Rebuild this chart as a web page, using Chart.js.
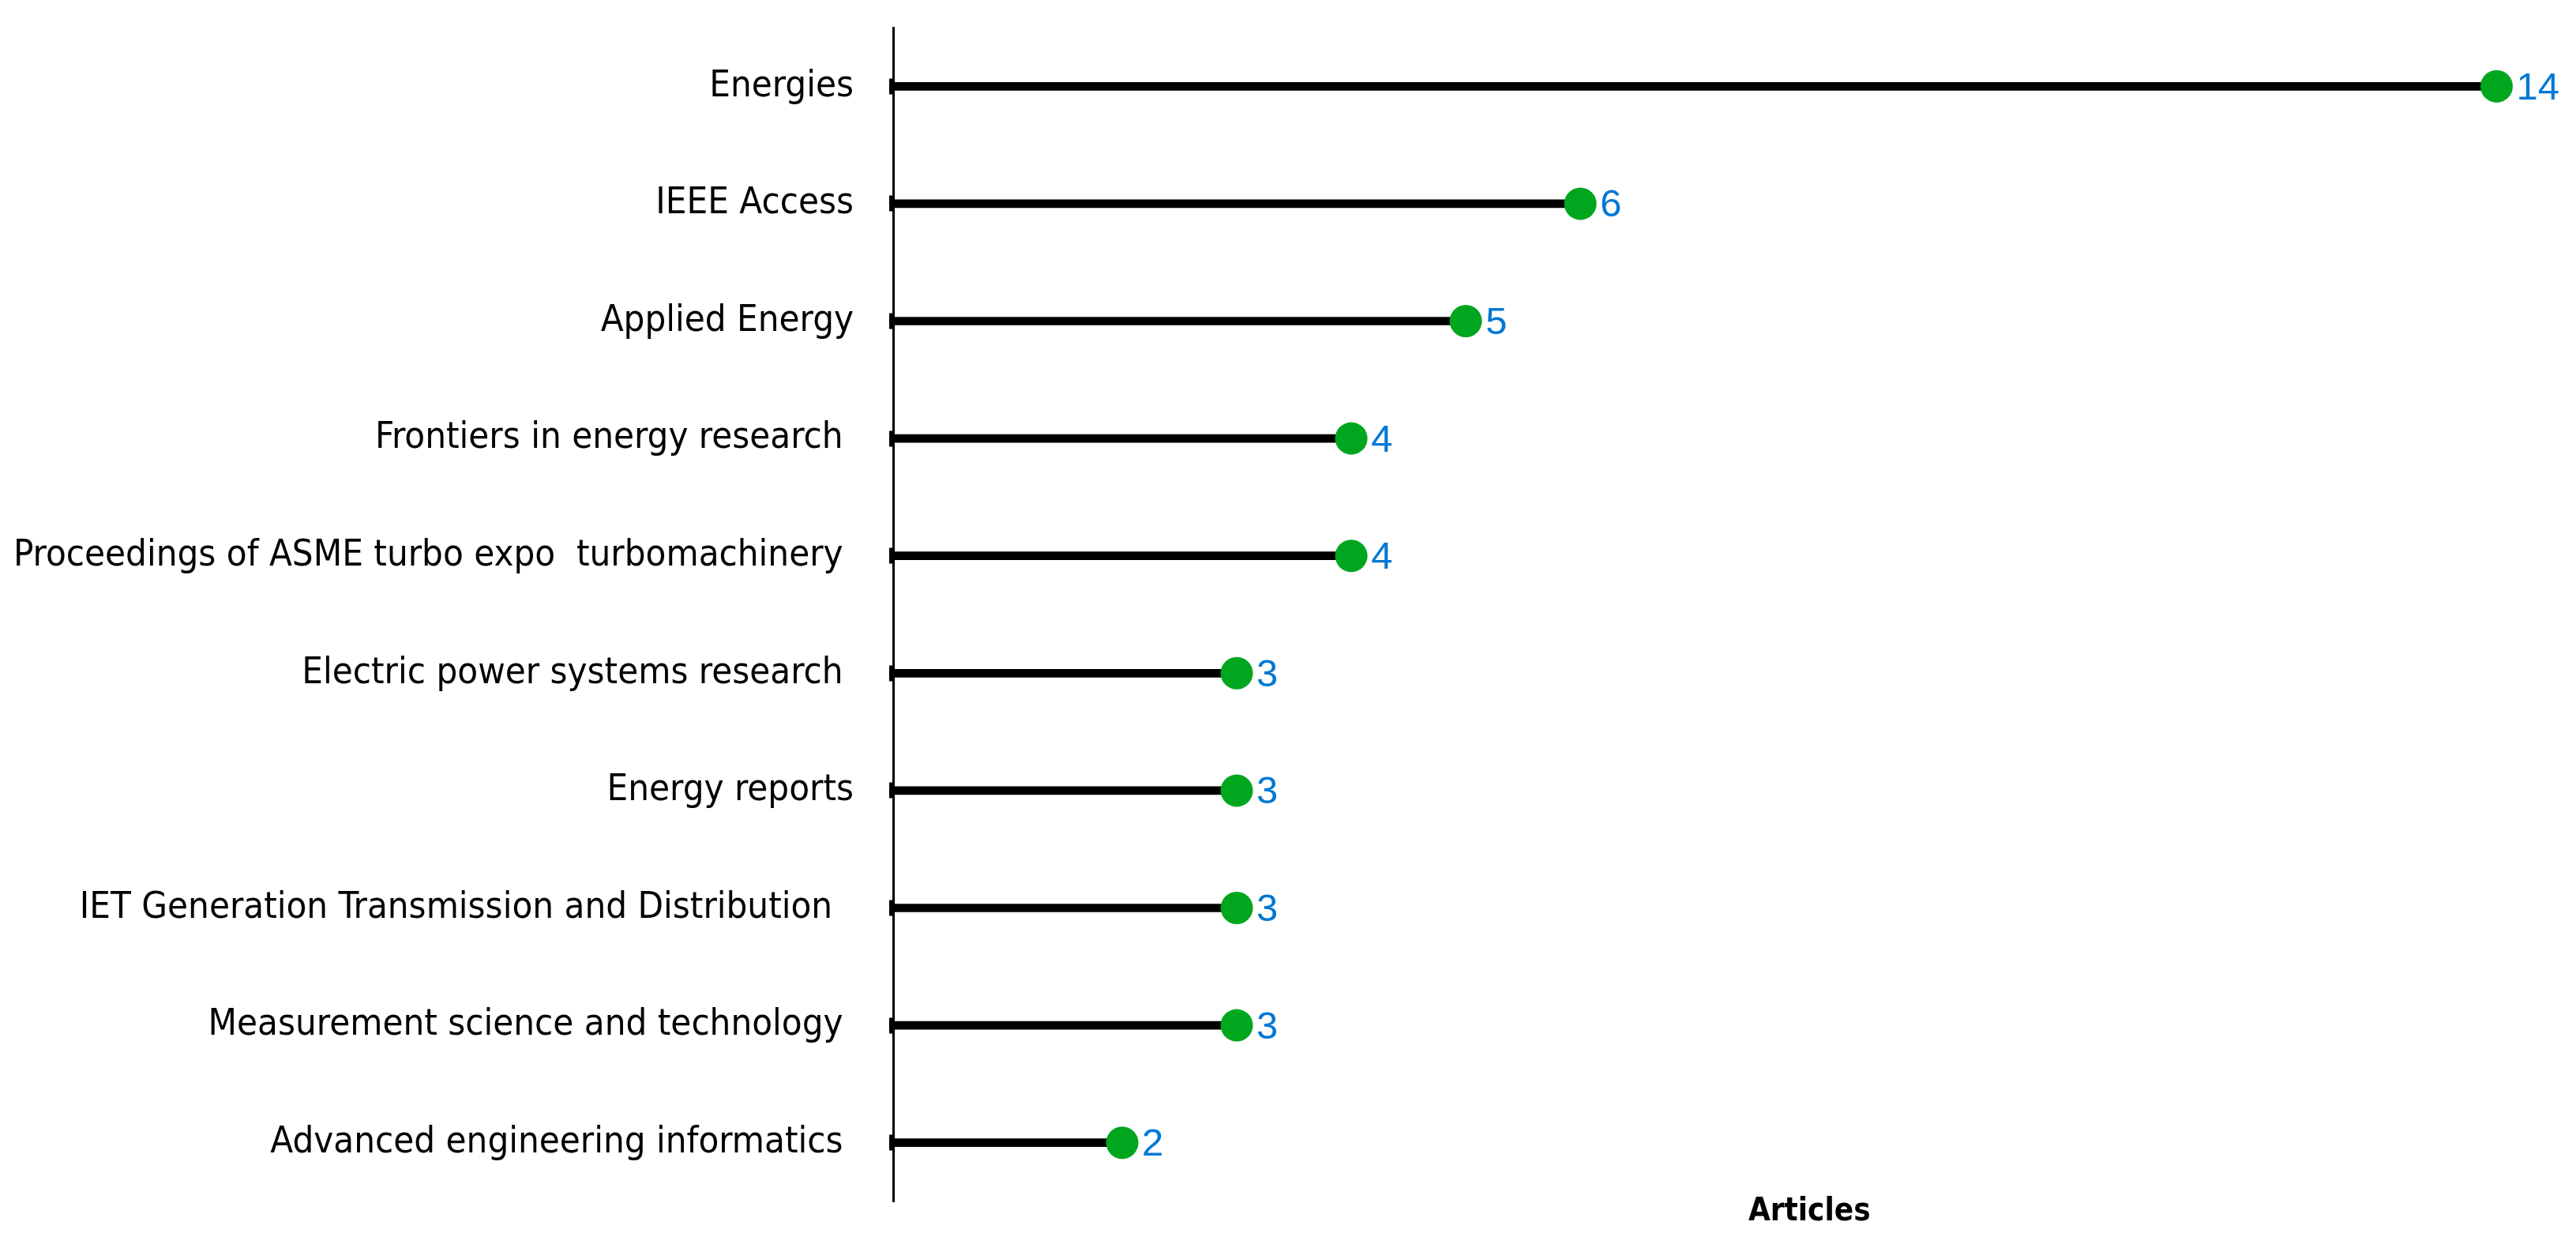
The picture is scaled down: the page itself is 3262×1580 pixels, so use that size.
<!DOCTYPE html>
<html>
<head>
<meta charset="utf-8">
<script src="https://cdn.jsdelivr.net/npm/chart.js@4/dist/chart.umd.min.js"></script>
<style>
  html, body { margin: 0; padding: 0; background: #fff; }
  #wrap { width: 3262px; height: 1580px; }
</style>
</head>
<body>
<div id="wrap"><canvas id="c" width="3262" height="1580"></canvas></div>
<script>
const categories = [
  "Energies",
  "IEEE Access",
  "Applied Energy",
  "Frontiers in energy research ",
  "Proceedings of ASME turbo expo  turbomachinery ",
  "Electric power systems research ",
  "Energy reports",
  "IET Generation Transmission and Distribution  ",
  "Measurement science and technology ",
  "Advanced engineering informatics "
];
const articles = [14, 6, 5, 4, 4, 3, 3, 3, 3, 2];
const axisTitle = "Articles";

const labelFont = '"Liberation Sans Narrow", "DejaVu Sans Condensed", "Noto Sans", sans-serif';

const valueLabels = {
  id: 'valueLabels',
  afterDatasetsDraw(chart) {
    const ctx = chart.ctx;
    const meta = chart.getDatasetMeta(1);
    ctx.save();
    ctx.fillStyle = '#0078D4';
    ctx.font = '49px "Liberation Sans", Arial, sans-serif';
    ctx.textAlign = 'left';
    ctx.textBaseline = 'middle';
    meta.data.forEach((pt, i) => {
      ctx.fillText(String(articles[i]), pt.x + 25, pt.y + 3);
    });
    // x-axis title
    const xs = chart.scales.x;
    ctx.fillStyle = '#000';
    ctx.font = 'bold 40px ' + labelFont;
    ctx.textAlign = 'center';
    ctx.fillText(axisTitle, xs.getPixelForValue(8), chart.chartArea.bottom + 14);
    ctx.restore();
  }
};

new Chart(document.getElementById('c'), {
  data: {
    labels: categories,
    datasets: [
      {
        type: 'bar',
        data: articles,
        backgroundColor: '#000',
        barThickness: 10,
        borderWidth: 0,
        order: 1
      },
      {
        type: 'line',
        data: articles,
        showLine: false,
        pointRadius: 20.5,
        pointHoverRadius: 20.5,
        pointBackgroundColor: '#00A61E',
        pointBorderWidth: 0,
        indexAxis: 'y',
        order: 0
      }
    ]
  },
  options: {
    indexAxis: 'y',
    responsive: false,
    animation: false,
    events: [],
    layout: { autoPadding: false, padding: { top: 35, bottom: 59, right: 28, left: 0 } },
    plugins: { legend: { display: false }, tooltip: { enabled: false } },
    scales: {
      x: {
        display: false,
        min: 0,
        max: 14.5
      },
      y: {
        offset: true,
        grid: {
          display: true,
          offset: false,
          drawOnChartArea: false,
          drawTicks: true,
          tickLength: 5,
          tickWidth: 20,
          tickColor: '#000'
        },
        border: { display: true, color: '#000', width: 3 },
        ticks: {
          color: '#000',
          padding: 45,
          font: { family: labelFont, size: 47 }
        },
        afterFit(scale) {
          scale.width = 1131;
          scale.paddingTop = 0;
          scale.paddingBottom = 0;
        }
      }
    }
  },
  plugins: [valueLabels]
});
</script>
</body>
</html>
